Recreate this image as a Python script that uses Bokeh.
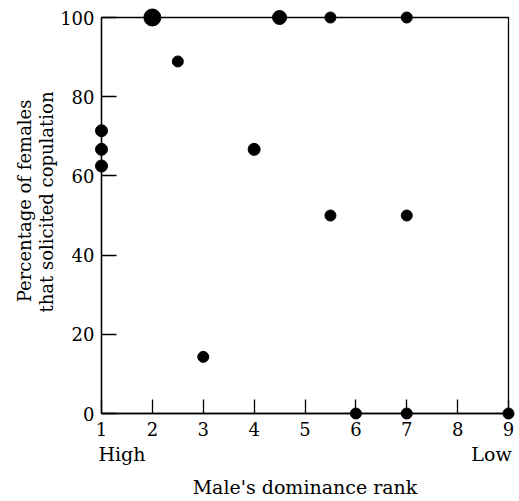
import math
from bokeh.plotting import figure
from bokeh.models import LinearAxis, FixedTicker
from bokeh.embed import file_html
from bokeh.resources import INLINE

# ---- data ----
rank = [1, 1, 1, 2, 2.5, 3, 4, 4.5, 5.5, 5.5, 6, 7, 7, 7, 9]
pct = [71.4, 66.7, 62.5, 100, 88.9, 14.3, 66.7, 100, 100, 50, 0, 100, 50, 0, 0]
dot_size = [12, 12, 12, 17, 11, 11, 12, 14, 11, 11, 11, 11, 11, 11, 11]
x_ticks = [1, 2, 3, 4, 5, 6, 7, 8, 9]
y_ticks = [0, 20, 40, 60, 80, 100]
x_title = "Male's dominance rank"
y_title = ["Percentage of females", "that solicited copulation"]
end_labels = ["High", "Low"]

FONT = "DejaVu Serif"

X0, X1 = x_ticks[0], x_ticks[-1]
Y0, Y1 = y_ticks[0], y_ticks[-1]
BW, BH = 407, 396
BOX_L, BOX_T = 101, 17
ppx = BW / (X1 - X0)
ppy = BH / (Y1 - Y0)


def px2x(px):
    return X0 + (px - BOX_L) / ppx


def py2y(py):
    return Y0 + (BOX_T + BH - py) / ppy


p = figure(
    frame_width=BW,
    frame_height=BH,
    x_range=(X0, X1),
    y_range=(Y0, Y1),
    output_backend="svg",
    toolbar_location=None,
    min_border_left=BOX_L,
    min_border_right=11,
    min_border_top=BOX_T,
    min_border_bottom=84,
)
p.outline_line_color = "black"
p.outline_line_width = 1.3
p.xgrid.visible = False
p.ygrid.visible = False
p.background_fill_color = "white"
p.border_fill_color = "white"


def style_axis(ax, ticks, tin):
    ax.ticker = FixedTicker(ticks=ticks)
    ax.major_tick_in = tin
    ax.major_tick_out = 0
    ax.minor_tick_line_color = None
    ax.axis_line_color = "black"
    ax.axis_line_width = 1.3
    ax.major_tick_line_color = "black"
    ax.major_tick_line_width = 1.3
    ax.major_label_text_font = FONT
    ax.major_label_text_font_size = "18px"
    ax.major_label_text_color = "black"


style_axis(p.xaxis[0], x_ticks, 14)
style_axis(p.yaxis[0], y_ticks, 15)
p.xaxis[0].major_label_standoff = 8
p.yaxis[0].major_label_standoff = 7


def text_axis(ticks, labels, standoff, size, orient="horizontal"):
    ax = LinearAxis(ticker=FixedTicker(ticks=ticks),
                    major_label_overrides={t: s for t, s in zip(ticks, labels)})
    ax.axis_line_color = None
    ax.major_tick_line_color = None
    ax.minor_tick_line_color = None
    ax.major_tick_in = 0
    ax.major_tick_out = 0
    ax.major_label_standoff = standoff
    ax.major_label_text_font = FONT
    ax.major_label_text_font_size = size
    ax.major_label_text_color = "black"
    ax.major_label_orientation = orient
    return ax


# "High" / "Low" under the ends of the rank axis, and the axis title
ends_ax = text_axis([px2x(121.5), px2x(491)], end_labels, 4, "19px")
ends_ax.axis_label = x_title
ends_ax.axis_label_text_font = FONT
ends_ax.axis_label_text_font_size = "19px"
ends_ax.axis_label_text_font_style = "normal"
ends_ax.axis_label_text_color = "black"
ends_ax.axis_label_standoff = 8
p.add_layout(ends_ax, "below")

# two-line y title, as rotated labels of two bare axes
line2_ax = text_axis([py2y(91)], [y_title[1]], 11, "18px", math.pi / 2)
p.add_layout(line2_ax, "left")
line1_ax = text_axis([py2y(99)], [y_title[0]], -2, "18px", math.pi / 2)
p.add_layout(line1_ax, "left")

p.scatter(rank, pct, size=dot_size, color="black", marker="circle",
          level="overlay")

open("out.html", "w").write(file_html(p, INLINE))
